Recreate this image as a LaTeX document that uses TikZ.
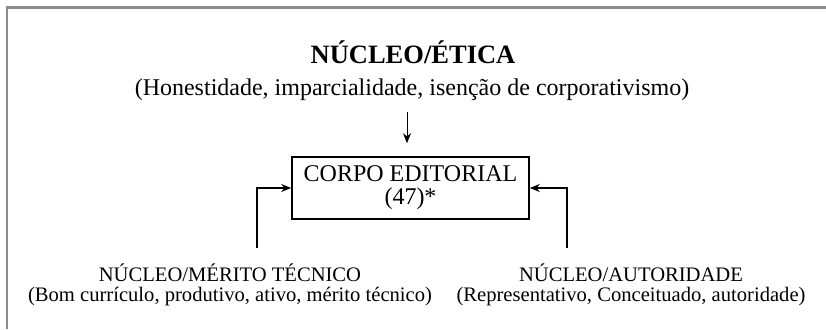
\documentclass[tikz,border=0pt]{standalone}
\usepackage{fontspec}
\setmainfont{Liberation Serif}
\usetikzlibrary{arrows.meta}
\tikzset{
    rotulo/.style={inner sep=0pt, align=center, font=\fontsize{20.6}{24}\selectfont},
    caixa/.style={draw, line width=1.6pt, minimum width=237pt, minimum height=62pt, align=center, font=\fontsize{24}{23}\selectfont},
    seta/.style={-{Stealth[length=10pt,width=8pt]}, line width=1.6pt},
    setafina/.style={-{Stealth[length=10pt,width=8pt]}, line width=1pt},
    moldura/.style={line width=2.5pt, color=black!45}
}

\begin{document}
\begin{tikzpicture}[x=1pt,y=-1pt]
\useasboundingbox (0,0) rectangle (826,329);
\draw[moldura] (7,329) -- (7,7.5) -- (826,7.5);
\node[rotulo, font=\fontsize{26.5}{30}\selectfont\bfseries] (etica) at (413,52) {NÚCLEO/ÉTICA};
\node[rotulo, font=\fontsize{24}{28}\selectfont] (valores) at (412,90) {(Honestidade, imparcialidade, isenção de corporativismo)};
\node[caixa] (corpo) at (410.5,188) {CORPO EDITORIAL\\(47)*};
\node[rotulo] (merito) at (230,273) {NÚCLEO/MÉRITO TÉCNICO};
\node[rotulo] (meritodesc) at (230,297) {(Bom currículo, produtivo, ativo, mérito técnico)};
\node[rotulo] (autoridade) at (631,273) {NÚCLEO/AUTORIDADE};
\node[rotulo] (autoridadedesc) at (631,297) {(Representativo, Conceituado, autoridade)};
\coordinate (topo) at (407,112);
\coordinate (pesq) at (257,248);
\coordinate (pdir) at (567,248);
\draw[setafina, shorten >=13pt] (topo) -- (topo |- corpo.north);
\draw[seta] (pesq) |- (corpo.west);
\draw[seta] (pdir) |- (corpo.east);
\end{tikzpicture}
\end{document}
